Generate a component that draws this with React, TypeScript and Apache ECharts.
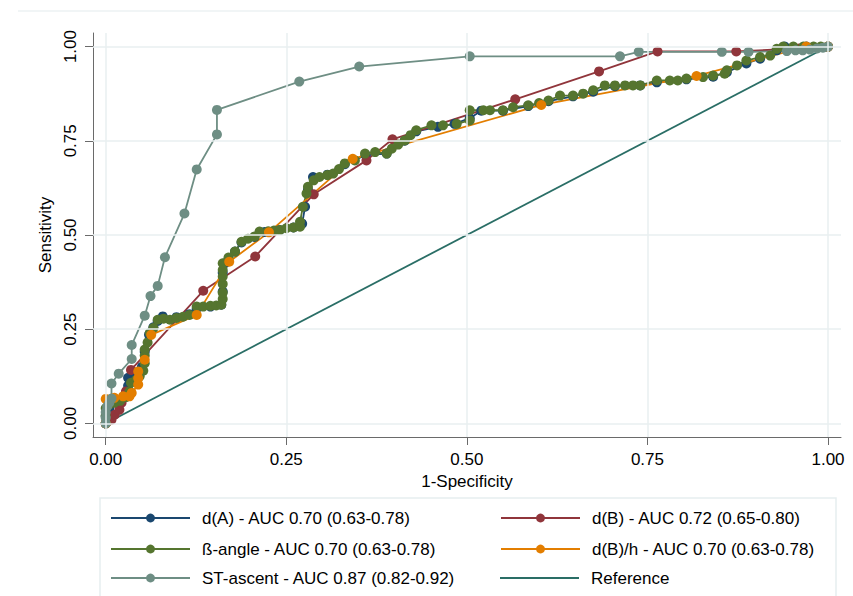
import React, { useEffect, useRef } from "react";
import * as echarts from "echarts";

const FONT = "'Liberation Sans', Arial, sans-serif";

const X_TICKS = [0, 0.25, 0.5, 0.75, 1];
const Y_TICKS = [0, 0.25, 0.5, 0.75, 1];

const NAME_DA = "d(A) - AUC 0.70 (0.63-0.78)";
const NAME_DB = "d(B) - AUC 0.72 (0.65-0.80)";
const NAME_BETA = "ß-angle - AUC 0.70 (0.63-0.78)";
const NAME_DBH = "d(B)/h - AUC 0.70 (0.63-0.78)";
const NAME_ST = "ST-ascent - AUC 0.87 (0.82-0.92)";
const NAME_REF = "Reference";

// legend order (row-major, two columns)
const LEGEND_ORDER = [NAME_DA, NAME_DB, NAME_BETA, NAME_DBH, NAME_ST, NAME_REF];

const dA = [
  [0, 0], [0, 0.02], [0.005, 0.04], [0.015, 0.055], [0.025, 0.07], [0.031, 0.1], [0.031, 0.121],
  [0.042, 0.13], [0.05, 0.15], [0.054, 0.19], [0.06, 0.235], [0.066, 0.255], [0.072, 0.272],
  [0.079, 0.284], [0.098, 0.282], [0.116, 0.29], [0.126, 0.305], [0.145, 0.31], [0.16, 0.315],
  [0.162, 0.35], [0.162, 0.4], [0.165, 0.425], [0.179, 0.456], [0.188, 0.48], [0.206, 0.495],
  [0.22, 0.508], [0.241, 0.513], [0.26, 0.52], [0.272, 0.53], [0.276, 0.575], [0.28, 0.62],
  [0.287, 0.654], [0.307, 0.66], [0.331, 0.688], [0.36, 0.712], [0.389, 0.716], [0.414, 0.75],
  [0.43, 0.775], [0.46, 0.787], [0.483, 0.795], [0.504, 0.81], [0.52, 0.83], [0.55, 0.83],
  [0.585, 0.842], [0.613, 0.855], [0.647, 0.868], [0.675, 0.88], [0.705, 0.895], [0.74, 0.897],
  [0.763, 0.905], [0.804, 0.913], [0.841, 0.92], [0.86, 0.932], [0.887, 0.955], [0.906, 0.968],
  [0.929, 0.99], [0.94, 1], [0.97, 1], [1, 1],
];

const dB = [
  [0, 0], [0.008, 0.01], [0.0125, 0.023], [0.019, 0.036], [0.022, 0.055], [0.028, 0.085],
  [0.035, 0.142], [0.135, 0.352], [0.207, 0.443], [0.288, 0.608], [0.361, 0.698], [0.397, 0.754],
  [0.567, 0.86], [0.683, 0.934], [0.764, 0.987], [0.873, 0.987], [0.96, 0.995], [1, 1],
];

const beta = [
  [0, 0], [0, 0.02], [0, 0.04], [0.005, 0.05], [0.012, 0.055], [0.02, 0.06], [0.028, 0.07],
  [0.033, 0.085], [0.035, 0.108], [0.042, 0.115], [0.047, 0.125], [0.052, 0.14], [0.054, 0.16],
  [0.054, 0.18], [0.054, 0.196], [0.058, 0.215], [0.061, 0.24], [0.066, 0.253], [0.072, 0.275],
  [0.08, 0.278], [0.089, 0.275], [0.098, 0.28], [0.107, 0.283], [0.116, 0.288], [0.126, 0.31],
  [0.135, 0.31], [0.145, 0.312], [0.153, 0.313], [0.16, 0.315], [0.162, 0.33], [0.162, 0.347],
  [0.162, 0.37], [0.162, 0.39], [0.162, 0.407], [0.162, 0.425], [0.17, 0.44], [0.179, 0.456],
  [0.188, 0.482], [0.197, 0.49], [0.206, 0.496], [0.213, 0.509], [0.225, 0.51], [0.233, 0.512],
  [0.241, 0.513], [0.25, 0.518], [0.26, 0.52], [0.269, 0.522], [0.269, 0.535], [0.273, 0.575],
  [0.278, 0.61], [0.28, 0.628], [0.288, 0.645], [0.296, 0.654], [0.307, 0.659], [0.315, 0.663],
  [0.323, 0.675], [0.331, 0.69], [0.345, 0.698], [0.359, 0.716], [0.373, 0.72], [0.389, 0.716],
  [0.396, 0.729], [0.405, 0.74], [0.414, 0.751], [0.422, 0.765], [0.43, 0.778], [0.451, 0.791],
  [0.467, 0.791], [0.486, 0.795], [0.504, 0.804], [0.504, 0.831], [0.523, 0.831], [0.532, 0.831],
  [0.55, 0.831], [0.564, 0.839], [0.585, 0.844], [0.6, 0.85], [0.613, 0.857], [0.629, 0.87],
  [0.647, 0.87], [0.661, 0.875], [0.675, 0.884], [0.691, 0.897], [0.705, 0.897], [0.719, 0.897],
  [0.73, 0.897], [0.74, 0.897], [0.763, 0.91], [0.781, 0.91], [0.792, 0.91], [0.804, 0.915],
  [0.827, 0.919], [0.841, 0.923], [0.857, 0.928], [0.86, 0.937], [0.874, 0.95], [0.887, 0.963],
  [0.906, 0.972], [0.92, 0.976], [0.929, 0.994], [0.938, 1], [0.952, 1], [0.966, 1], [0.98, 1],
  [0.99, 1], [1, 1],
];

const dBh = [
  [0, 0], [0, 0.065], [0.012, 0.068], [0.024, 0.072], [0.033, 0.072], [0.036, 0.081],
  [0.045, 0.103], [0.045, 0.12], [0.045, 0.138], [0.054, 0.169], [0.063, 0.235], [0.126, 0.288],
  [0.171, 0.429], [0.226, 0.507], [0.342, 0.702], [0.603, 0.845], [0.818, 0.922], [0.97, 1], [1, 1],
];

const stAscent = [
  [0, 0], [0, 0.015], [0, 0.03], [0.002, 0.045], [0.005, 0.055], [0.008, 0.066], [0.008, 0.106],
  [0.018, 0.132], [0.036, 0.171], [0.036, 0.208], [0.054, 0.286], [0.062, 0.338], [0.072, 0.365],
  [0.082, 0.441], [0.109, 0.557], [0.126, 0.674], [0.154, 0.767], [0.154, 0.832], [0.268, 0.907],
  [0.351, 0.947], [0.504, 0.974], [0.712, 0.974], [0.738, 0.986], [0.853, 0.986], [0.89, 0.986],
  [0.943, 0.988], [0.955, 0.99], [0.965, 0.99], [0.975, 0.992], [0.985, 0.995], [0.993, 0.997], [1, 1],
];

const reference = [[0, 0], [1, 1]];

const COLORS = {
  dA: "#1a476f",
  dB: "#90353b",
  beta: "#55752f",
  dBh: "#e37e00",
  st: "#6e8e84",
  ref: "#2a6e66",
};

const GRID_COLOR = "#e8eff1";
const AXIS_COLOR = "#6a6a6a";
const LINE_W = 1.8;

function rocSeries(name: string, data: number[][], color: string) {
  return {
    name,
    type: "line",
    data,
    symbol: "circle",
    symbolSize: 10,
    showAllSymbol: true,
    lineStyle: { color, width: LINE_W },
    itemStyle: { color },
    z: 3,
  };
}

export default function App() {
  const ref = useRef<HTMLDivElement>(null);
  useEffect(() => {
    if (!ref.current) return;
    const chart = echarts.init(ref.current, null, { renderer: "svg" });
    const textStyle = {
      fontSize: 17,
      fontFamily: FONT,
      color: "#000",
      lineHeight: 17,
      padding: [0, 0, 0, 7],
    };
    const colLeft = [110, 500];
    const rowTop = [509.5, 540.5, 569.5];
    const legends = LEGEND_ORDER.map((name, i) => {
      const isRef = name === NAME_REF;
      return {
        orient: "horizontal",
        itemWidth: 79,
        itemHeight: isRef ? LINE_W : 11,
        padding: 0,
        selectedMode: false,
        textStyle,
        left: colLeft[i % 2],
        top: rowTop[Math.floor(i / 2)],
        data: [isRef ? { name, icon: "rect", itemStyle: { color: COLORS.ref } } : name],
      };
    });
    const option = {
      animation: false,
      backgroundColor: "#fff",
      grid: { left: 93, right: 12, top: 33, bottom: 159, containLabel: false },
      xAxis: {
        type: "value",
        min: -0.0176,
        max: 1.018,
        name: "1-Specificity",
        nameLocation: "middle",
        nameGap: 27,
        nameTextStyle: { fontSize: 17, fontFamily: FONT, color: "#000" },
        axisLine: { show: true, onZero: false, lineStyle: { color: AXIS_COLOR, width: 1 } },
        axisTick: { show: true, length: 8, customValues: X_TICKS, lineStyle: { color: AXIS_COLOR } },
        axisLabel: {
          customValues: X_TICKS,
          margin: 14,
          fontSize: 17,
          fontFamily: FONT,
          color: "#000",
          formatter: (v: number) => v.toFixed(2),
        },
        splitLine: { show: false },
      },
      yAxis: {
        type: "value",
        min: -0.036,
        max: 1.036,
        name: "Sensitivity",
        nameLocation: "middle",
        nameGap: 30,
        nameTextStyle: { fontSize: 17, fontFamily: FONT, color: "#000" },
        axisLine: { show: true, onZero: false, lineStyle: { color: AXIS_COLOR, width: 1 } },
        axisTick: { show: true, length: 8, customValues: Y_TICKS, lineStyle: { color: AXIS_COLOR } },
        axisLabel: {
          customValues: Y_TICKS,
          rotate: 90,
          margin: 14,
          fontSize: 17,
          fontFamily: FONT,
          color: "#000",
          formatter: (v: number) => v.toFixed(2),
        },
        splitLine: { show: false },
      },
      legend: legends,
      graphic: [
        {
          type: "line",
          shape: { x1: 18, y1: 11, x2: 853, y2: 11 },
          style: { stroke: "#edf2f3", lineWidth: 1.5 },
          silent: true,
        },
        {
          type: "rect",
          shape: { x: 100, y: 498, width: 736, height: 120 },
          style: { fill: "none", stroke: "#e6eef0", lineWidth: 1.5 },
          silent: true,
          z: -1,
        },
      ],
      series: [
        {
          name: "grid",
          type: "line",
          data: [],
          silent: true,
          z: 1,
          markLine: {
            silent: true,
            symbol: "none",
            label: { show: false },
            lineStyle: { color: GRID_COLOR, width: 1.5, type: "solid" },
            data: [
              ...X_TICKS.map((v) => ({ xAxis: v })),
              ...Y_TICKS.map((v) => ({ yAxis: v })),
            ],
          },
        },
        rocSeries(NAME_DA, dA, COLORS.dA),
        rocSeries(NAME_DB, dB, COLORS.dB),
        rocSeries(NAME_BETA, beta, COLORS.beta),
        rocSeries(NAME_DBH, dBh, COLORS.dBh),
        rocSeries(NAME_ST, stAscent, COLORS.st),
        {
          name: NAME_REF,
          type: "line",
          data: reference,
          symbol: "none",
          lineStyle: { color: COLORS.ref, width: LINE_W },
          itemStyle: { color: COLORS.ref },
          z: 3,
        },
      ],
    };
    chart.setOption(option as any);
    return () => chart.dispose();
  }, []);
  return (
    <div
      ref={ref}
      style={{ position: "fixed", left: 0, top: 0, width: 853, height: 596, background: "#fff" }}
    />
  );
}
